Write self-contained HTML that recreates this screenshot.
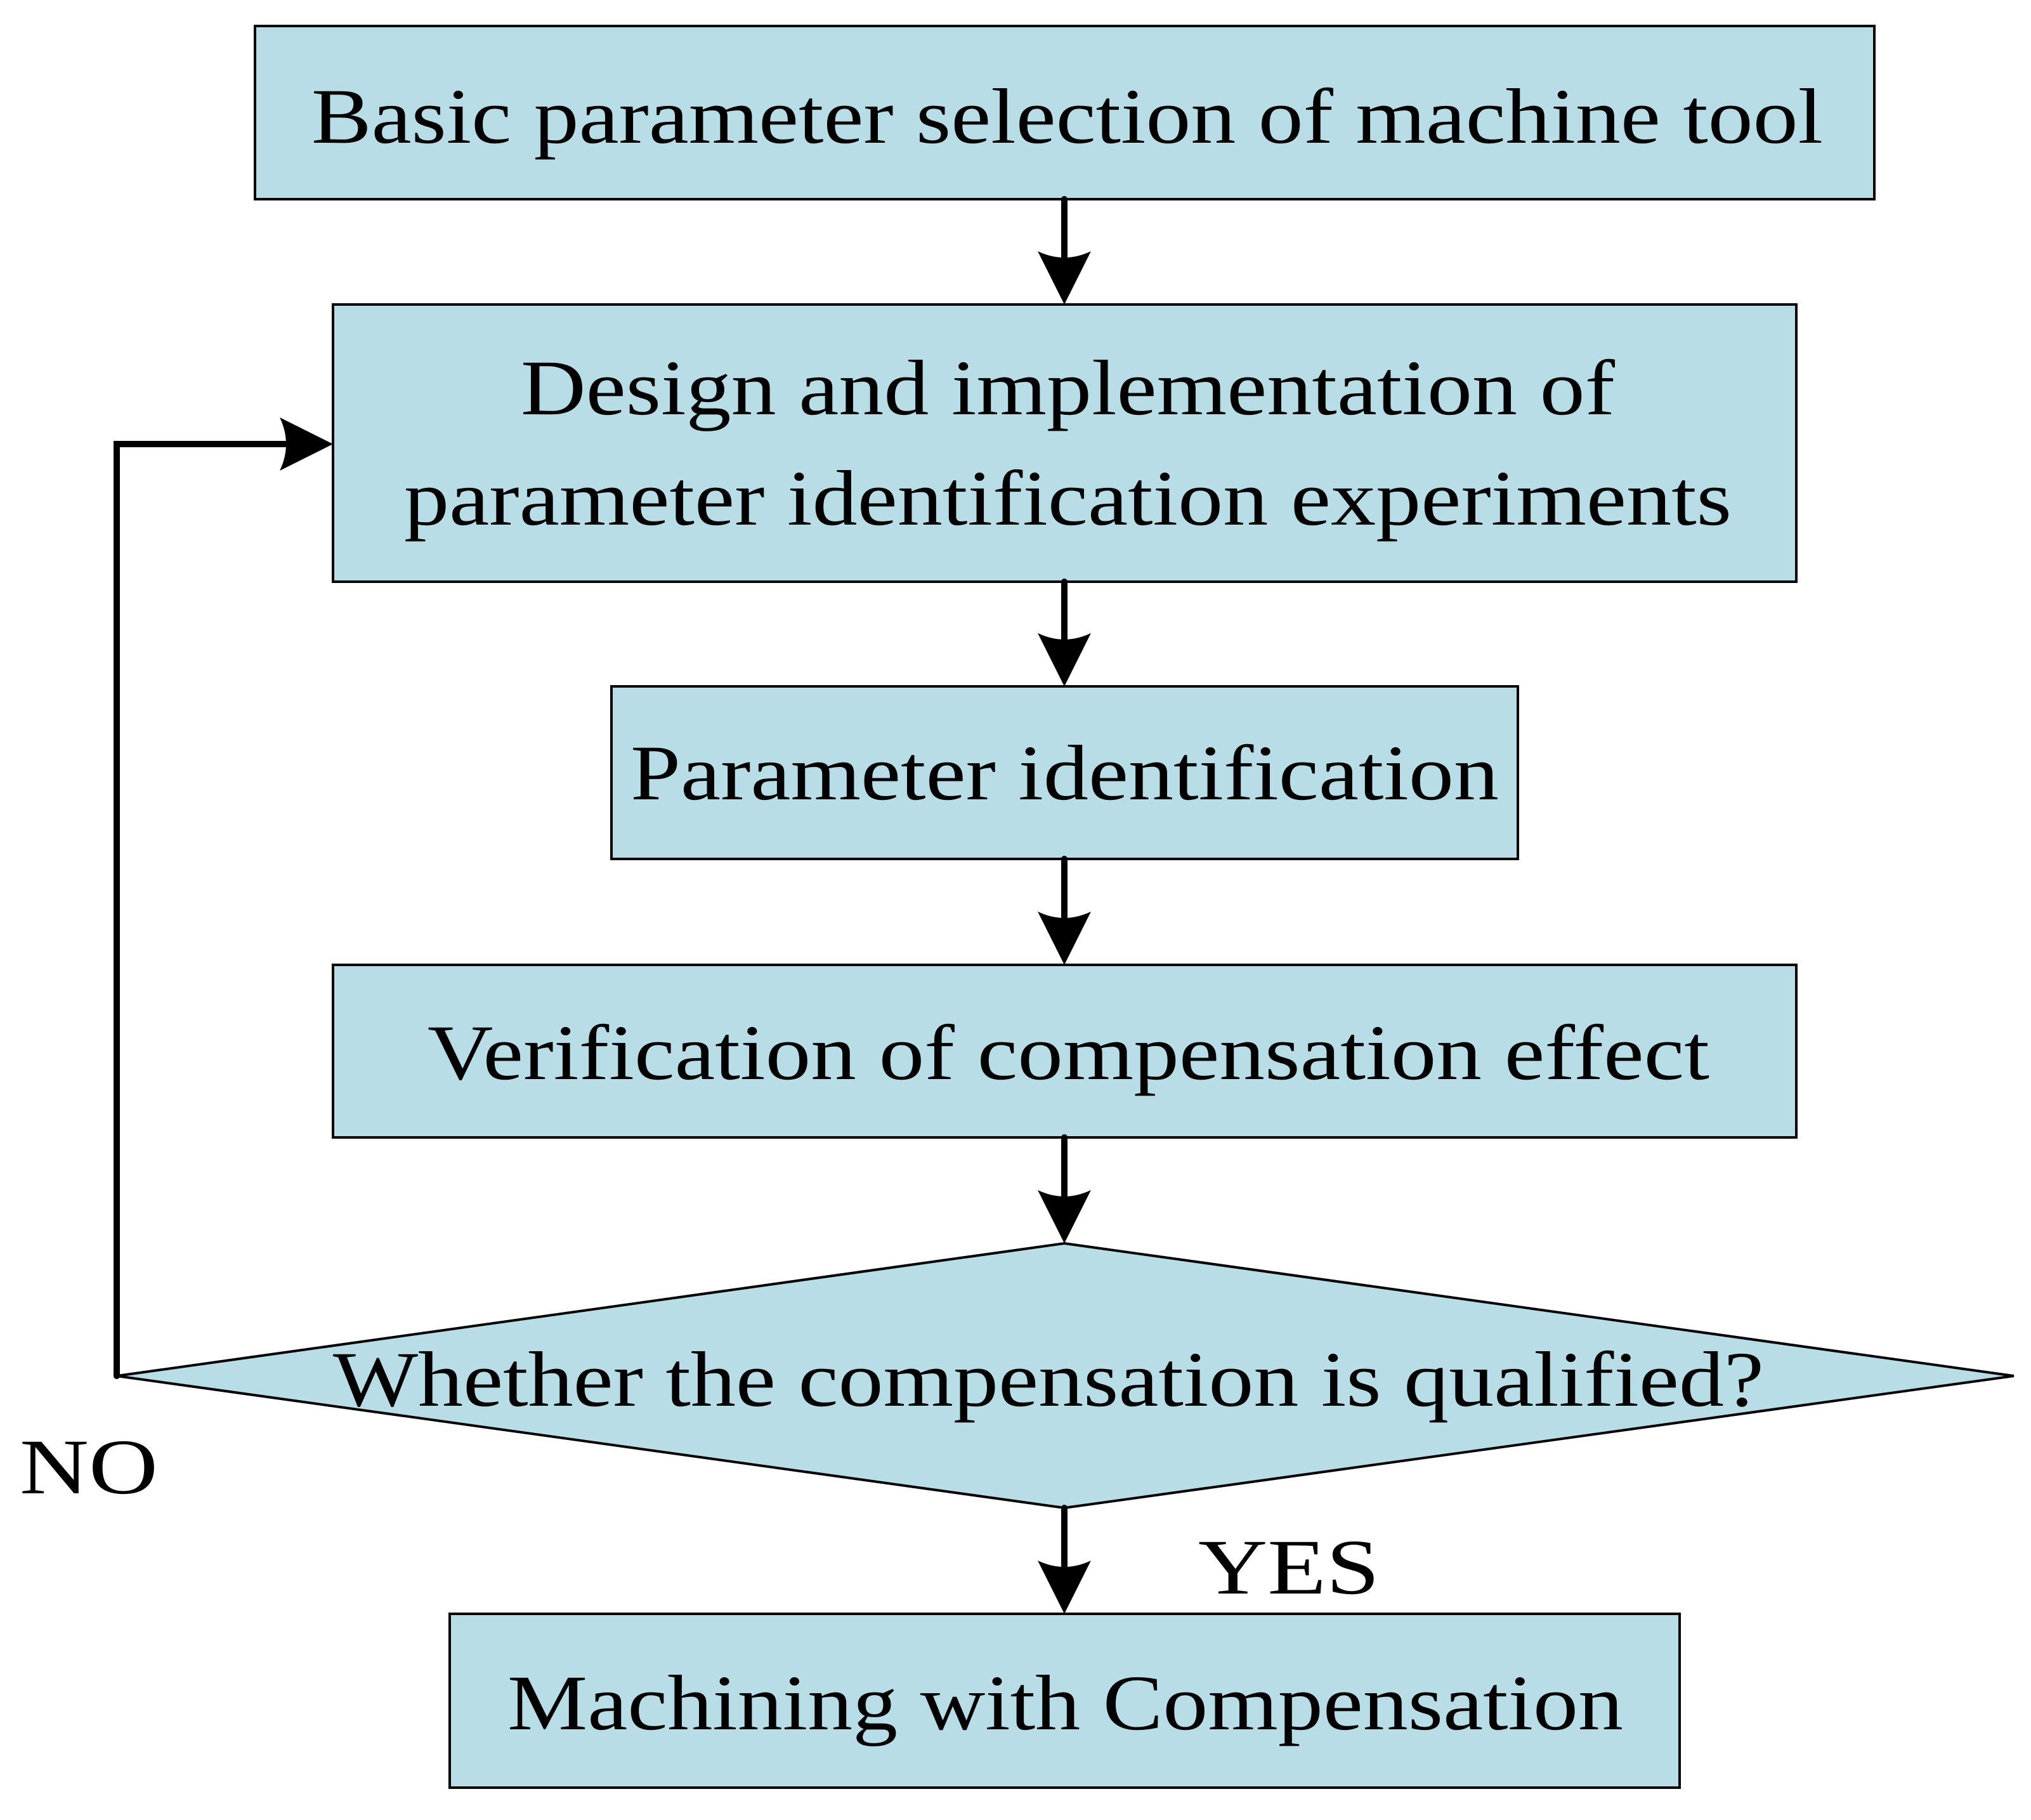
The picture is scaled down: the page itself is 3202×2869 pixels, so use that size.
<!DOCTYPE html>
<html><head><meta charset="utf-8"><style>html,body{margin:0;padding:0;background:#fff}svg{display:block}</style></head>
<body>
<svg width="3202" height="2869" viewBox="0 0 3202 2869" xmlns="http://www.w3.org/2000/svg" font-family="'Liberation Serif', serif" font-size="124" fill="#000">
<defs>
<g id="ah"><path d="M-42,-84 Q0,-64 42,-84 L0,0 Z" fill="#000"/></g>
</defs>
<g fill="#b8dde6" stroke="#000" stroke-width="4">
<rect x="402" y="41" width="2553" height="273"/>
<rect x="525" y="480" width="2307" height="437"/>
<rect x="964" y="1082" width="1429" height="272"/>
<rect x="525" y="1521" width="2307" height="272"/>
<polygon points="1678,1960 3175,2169 1678,2377 184,2169"/>
<rect x="709" y="2544" width="1939" height="274"/>
</g>
<g stroke="#000" stroke-width="10" fill="none" stroke-linecap="round">
<line x1="1678" y1="314" x2="1678" y2="410"/>
<line x1="1678" y1="917" x2="1678" y2="1010"/>
<line x1="1678" y1="1354" x2="1678" y2="1450"/>
<line x1="1678" y1="1793" x2="1678" y2="1890"/>
<line x1="1678" y1="2377" x2="1678" y2="2470"/>
<polyline points="184,2169 184,700 450,700"/>
</g>
<use href="#ah" transform="translate(1678,480)"/>
<use href="#ah" transform="translate(1678,1082)"/>
<use href="#ah" transform="translate(1678,1521)"/>
<use href="#ah" transform="translate(1678,1960)"/>
<use href="#ah" transform="translate(1678,2544)"/>
<use href="#ah" transform="translate(525,700) rotate(-90)"/>
<text x="491" y="225" textLength="2383" lengthAdjust="spacingAndGlyphs">Basic parameter selection of machine tool</text>
<text x="821" y="653" textLength="1725" lengthAdjust="spacingAndGlyphs">Design and implementation of</text>
<text x="637" y="827" textLength="2093" lengthAdjust="spacingAndGlyphs">parameter identification experiments</text>
<text x="994" y="1260" textLength="1369" lengthAdjust="spacingAndGlyphs">Parameter identification</text>
<text x="674" y="1701" textLength="2021" lengthAdjust="spacingAndGlyphs">Verification of compensation effect</text>
<text x="525" y="2216" textLength="2256" lengthAdjust="spacingAndGlyphs">Whether the compensation is qualified?</text>
<text x="800" y="2726" textLength="1759" lengthAdjust="spacingAndGlyphs">Machining with Compensation</text>
<text x="31" y="2354" textLength="218" lengthAdjust="spacingAndGlyphs">NO</text>
<text x="1889" y="2512" textLength="286" lengthAdjust="spacingAndGlyphs">YES</text>
</svg>
</body></html>
